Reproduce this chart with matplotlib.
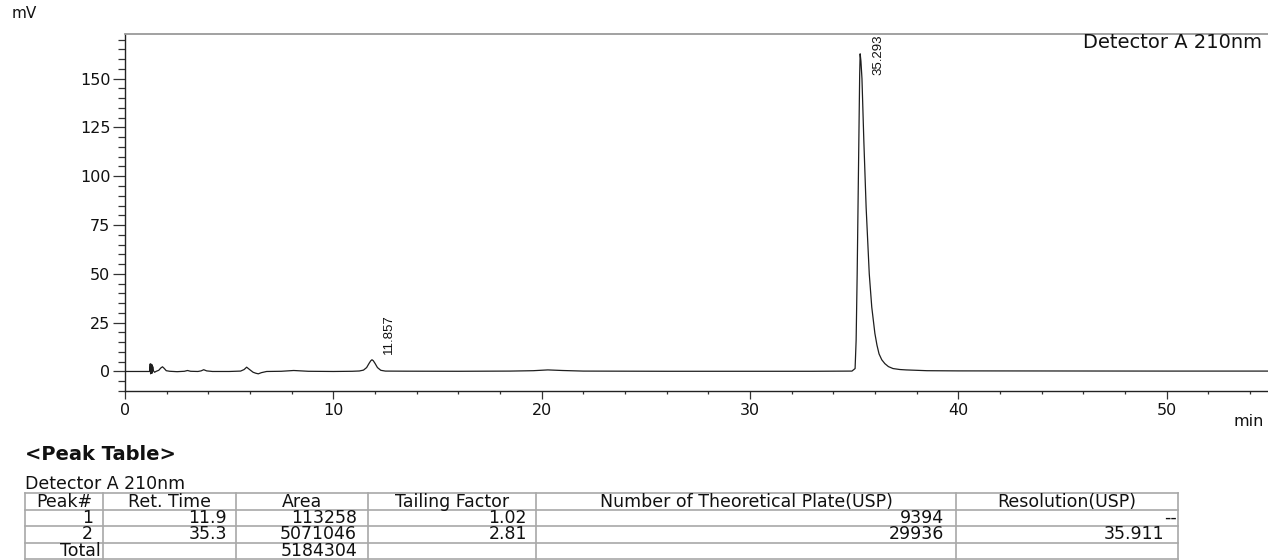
import matplotlib
matplotlib.use("Agg")
import matplotlib.pyplot as plt
from matplotlib.ticker import MultipleLocator
from matplotlib.lines import Line2D

# ---------------- chromatogram trace (min, mV) ----------------
trace_time = [
    0.0, 1.18, 1.21, 1.23, 1.25, 1.27, 1.29, 1.31, 1.33, 1.36, 1.42, 1.50,
    1.62, 1.72, 1.80, 1.88, 1.98, 2.15, 2.50, 2.85, 3.00, 3.15, 3.50, 3.65,
    3.78, 3.92, 4.20, 5.00, 5.55, 5.72, 5.84, 5.98, 6.15, 6.28, 6.40, 6.55,
    6.80, 7.50, 8.10, 8.80, 10.00, 10.90, 11.25, 11.45, 11.60, 11.72, 11.80,
    11.857, 11.92, 12.00, 12.12, 12.28, 12.50, 13.50, 16.00, 18.50, 19.60,
    20.30, 21.00, 22.00, 26.00, 30.00, 33.00, 34.90, 35.05, 35.10, 35.15,
    35.19, 35.23, 35.27, 35.293, 35.33, 35.38, 35.47, 35.58, 35.73, 35.85,
    36.00, 36.10, 36.20, 36.33, 36.48, 36.65, 36.87, 37.20, 37.50, 38.50,
    40.00, 45.00, 50.00, 55.00, 60.00,
]
trace_mv = [
    0.0, 0.0, 3.9, -1.2, 3.8, -1.0, 3.5, -0.8, 2.5, 0.4, -0.4, 0.1,
    0.6, 1.8, 2.4, 1.6, 0.4, 0.1, -0.1, 0.1, 0.5, 0.1, 0.0, 0.3,
    0.9, 0.3, 0.0, 0.0, 0.2, 1.0, 2.2, 1.0, -0.4, -0.9, -1.2, -0.6,
    0.0, 0.1, 0.5, 0.1, 0.0, 0.1, 0.25, 0.7, 2.0, 4.2, 5.5,
    6.0, 5.5, 4.2, 2.0, 0.6, 0.2, 0.15, 0.1, 0.2, 0.4,
    0.8, 0.5, 0.2, 0.1, 0.1, 0.1, 0.2, 1.5, 16.0, 50.0,
    84.0, 118.0, 152.0, 162.7, 159.0, 150.0, 118.0, 84.0, 50.0, 33.0,
    19.5, 13.5, 9.0, 6.0, 4.0, 2.5, 1.5, 1.0, 0.8, 0.4,
    0.3, 0.25, 0.2, 0.2, 0.2,
]

# labelled peaks: retention time (min) and apex height (mV)
peak_rt = [11.857, 35.293]
peak_height = [6.0, 162.7]
# label offsets from the apex, in pixels
peak_label_offset = [(17, 6), (18, -21.5)]

# ---------------- peak table ----------------
detector_name = "Detector A 210nm"
table_header = ["Peak#", "Ret. Time", "Area", "Tailing Factor",
                "Number of Theoretical Plate(USP)", "Resolution(USP)"]
peak_no = ["1", "2"]
ret_time = [11.9, 35.3]
area = [113258, 5071046]
tailing_factor = [1.02, 2.81]
plates_usp = [9394, 29936]
resolution_usp = ["--", "35.911"]
total_area = 5184304

W, H = 1268, 560
fig = plt.figure(figsize=(W / 100, H / 100), dpi=100)
fig.patch.set_facecolor("white")


def fx(px):
    return px / W


def fy(py):
    return 1 - py / H


# ---------------- chromatogram axes ----------------
x0_px, px_per_min = 125, 20.83
x_max = 56
ax = fig.add_axes([fx(x0_px), fy(391), x_max * px_per_min / W, fy(34.3) - fy(391)])
ax.plot(trace_time, trace_mv, color="#1e1e1e", lw=0.9, solid_joinstyle="round")
ax.set_xlim(0, x_max)
ax.set_ylim(-10, 172.7)

ax.xaxis.set_major_locator(MultipleLocator(10))
ax.xaxis.set_minor_locator(MultipleLocator(2))
ax.yaxis.set_major_locator(MultipleLocator(25))
ax.yaxis.set_minor_locator(MultipleLocator(5))

ax.tick_params(axis="y", which="major", direction="out", length=8.5, width=0.9,
               color="#333333", pad=2, labelsize=11.5)
ax.tick_params(axis="y", which="minor", direction="out", length=5, width=0.9,
               color="#333333")
ax.tick_params(axis="x", which="major", direction="out", length=5.5, width=0.9,
               color="#333333", pad=3, labelsize=11.5)
ax.tick_params(axis="x", which="minor", direction="out", length=2.5, width=0.9,
               color="#333333")
for lab in ax.get_xticklabels() + ax.get_yticklabels():
    lab.set_family("DejaVu Sans")
    lab.set_color("#111111")

ax.spines["right"].set_visible(False)
ax.spines["top"].set_color("#9a9a9a")
ax.spines["top"].set_linewidth(1.3)
ax.spines["left"].set_color("#222222")
ax.spines["left"].set_linewidth(1.0)
ax.spines["bottom"].set_color("#222222")
ax.spines["bottom"].set_linewidth(1.0)

for rt, h, (dx, dy) in zip(peak_rt, peak_height, peak_label_offset):
    ax.annotate(f"{rt:.3f}", xy=(rt, h), xytext=(dx, dy), textcoords="offset pixels",
                rotation=90, ha="center", va="bottom", fontsize=9.5,
                family="Liberation Sans", color="#111111")

fig.text(fx(12), fy(14), "mV", fontsize=11, family="DejaVu Sans",
         ha="left", va="center", color="#111111")
fig.text(fx(1264), fy(421), "min", fontsize=11.5, family="DejaVu Sans",
         ha="right", va="center", color="#111111")
fig.text(fx(1083), fy(43), detector_name, fontsize=14, family="DejaVu Sans",
         ha="left", va="center", color="#111111")

# ---------------- peak table ----------------
fig.text(fx(25), fy(455), "<Peak Table>", fontsize=14, fontweight="bold",
         family="DejaVu Sans", ha="left", va="center", color="#111111")
fig.text(fx(25), fy(489), detector_name, fontsize=12.5, family="DejaVu Sans",
         ha="left", va="baseline", color="#111111")

col_edges = [25, 103, 236, 368, 536, 956, 1178]
row_edges = [493, 509.5, 526, 542.5, 559]
line_kw = dict(color="#a8a8a8", lw=1.2, transform=fig.transFigure)
for xe in col_edges:
    fig.add_artist(Line2D([fx(xe), fx(xe)], [fy(row_edges[0]), fy(row_edges[-1])], **line_kw))
for ye in row_edges:
    fig.add_artist(Line2D([fx(col_edges[0]), fx(col_edges[-1])], [fy(ye), fy(ye)], **line_kw))

cell_font = dict(fontsize=12.5, family="DejaVu Sans", va="center", color="#111111")
row_mid = [(row_edges[i] + row_edges[i + 1]) / 2 for i in range(len(row_edges) - 1)]

for i, text in enumerate(table_header):
    xc = (col_edges[i] + col_edges[i + 1]) / 2
    fig.text(fx(xc), fy(row_mid[0] + 0.5), text, ha="center", **cell_font)

right_pad = [None, 9, 11, 9, 12, 14]
for r in range(len(peak_no)):
    y = fy(row_mid[r + 1])
    fig.text(fx(87.5), y, peak_no[r], ha="center", **cell_font)
    fig.text(fx(col_edges[2] - right_pad[1]), y, f"{ret_time[r]:.1f}", ha="right", **cell_font)
    fig.text(fx(col_edges[3] - right_pad[2]), y, f"{area[r]}", ha="right", **cell_font)
    fig.text(fx(col_edges[4] - right_pad[3]), y, f"{tailing_factor[r]:.2f}", ha="right", **cell_font)
    fig.text(fx(col_edges[5] - right_pad[4]), y, f"{plates_usp[r]}", ha="right", **cell_font)
    res = resolution_usp[r]
    pad = 1 if res == "--" else right_pad[5]
    fig.text(fx(col_edges[6] - pad), y, res, ha="right", **cell_font)

y_tot = fy(row_mid[3])
fig.text(fx(101), y_tot, "Total", ha="right", **cell_font)
fig.text(fx(col_edges[3] - right_pad[2]), y_tot, f"{total_area}", ha="right", **cell_font)

fig.savefig("out.png", dpi=100, facecolor="white")
